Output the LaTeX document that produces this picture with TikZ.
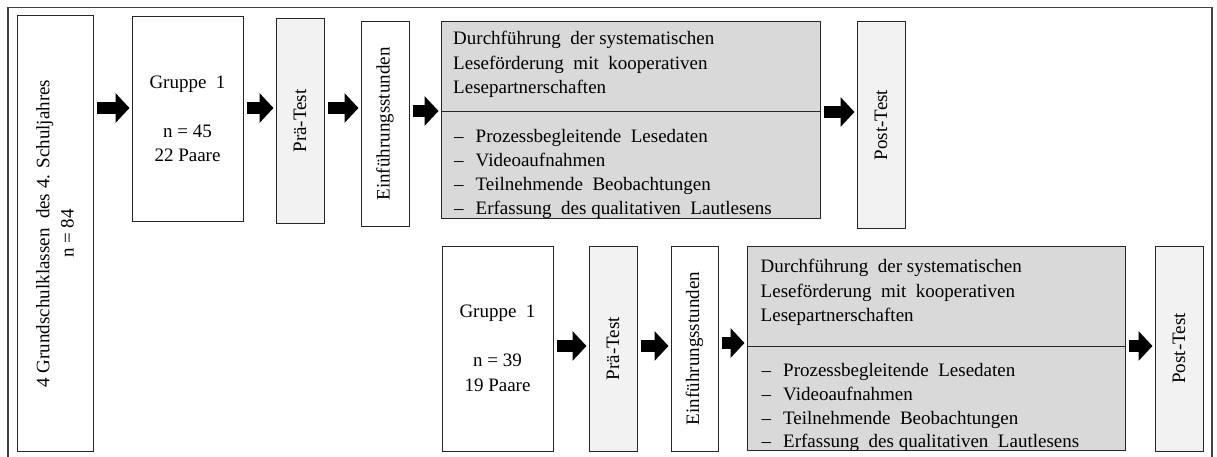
\documentclass[tikz,border=0pt]{standalone}
\usepackage{fontspec}
\setmainfont{Liberation Serif}
\usetikzlibrary{arrows.meta}

\definecolor{framegray}{HTML}{404040}
\definecolor{testfill}{HTML}{F2F2F2}
\definecolor{phasefill}{HTML}{D9D9D9}

% body text and list rows
\newcommand{\bodyfont}{\fontsize{19}{24.5}\selectfont}
\newcommand{\listfont}{\fontsize{19}{23.8}\selectfont}
\newcommand{\dashitem}[1]{\makebox[21.5pt][l]{–}#1}

\begin{document}
\begin{tikzpicture}[x=1pt,y=-1pt,
  box/.style={draw=black!85, line width=1pt, inner sep=0pt, fill=white},
  testbox/.style={box, fill=testfill},
  phasebox/.style={box, fill=phasefill},
  label/.style={font=\bodyfont, inner sep=0pt},
  listlabel/.style={font=\listfont, inner sep=0pt},
  flow/.style={line width=12pt, -{Triangle[length=14pt,width=29pt]},
               shorten <=3pt, shorten >=2pt}]
\useasboundingbox (0,0) rectangle (1217,457);

% outer frame, open at the bottom
\draw[framegray, line width=1.5pt] (8,470) -- (8,7.5) -- (1212,7.5) -- (1212,470);

% sample
\node[box, minimum width=76pt, minimum height=435pt] (cls) at (55,233.5) {};
\node[label, rotate=90, align=center] (clsText) at (cls.center)
  {4 Grundschulklassen\ \ des 4. Schuljahres\\ n = 84};

% ---------- group A ----------
\node[box, minimum width=111pt, minimum height=204pt, font=\bodyfont, align=center] (gA) at (187.5,119)
  {Gruppe\ \ 1\\ \\ n = 45\\ 22 Paare};
\node[testbox, minimum width=48pt, minimum height=204pt] (preA) at (300,121) {};
\node[label, rotate=90] (preAText) at (preA.center) {Prä-Test};
\node[box, minimum width=48pt, minimum height=204pt] (introA) at (385,124) {};
\node[label, rotate=90] (introAText) at (introA.center) {Einführungsstunden};
\node[phasebox, minimum width=379pt, minimum height=196pt] (phaseA) at (630.5,120) {};
\draw[line width=1pt, black!85] (phaseA.west |- 0,112) -- (phaseA.east |- 0,112);
\node[label, anchor=base west] (phaseAHead) at (453,45)
  {\begin{tabular}[t]{@{}l@{}}Durchführung\ \ der systematischen\\
   Leseförderung\ \ mit\ \ kooperativen\\ Lesepartnerschaften\end{tabular}};
\node[listlabel, anchor=base west] (phaseAList) at (454,143)
  {\begin{tabular}[t]{@{}l@{}}\dashitem{Prozessbegleitende\ \ Lesedaten}\\
   \dashitem{Videoaufnahmen}\\ \dashitem{Teilnehmende\ \ Beobachtungen}\\
   \dashitem{Erfassung\ \ des qualitativen\ \ Lautlesens}\end{tabular}};
\node[testbox, minimum width=48pt, minimum height=206pt] (postA) at (881,125) {};
\node[label, rotate=90] (postAText) at (postA.center) {Post-Test};

\draw[flow] (cls.east |- 0,108) -- (gA.west |- 0,108);
\draw[flow] (gA.east |- 0,108) -- (preA.west |- 0,108);
\draw[flow] (preA.east |- 0,108) -- (introA.west |- 0,108);
\draw[flow] (introA.east |- 0,111) -- (phaseA.west |- 0,111);
\draw[flow] (phaseA.east |- 0,112) -- (postA.west |- 0,112);

% ---------- group B ----------
\node[box, minimum width=111pt, minimum height=205pt, font=\bodyfont, align=center] (gB) at (497.5,348.5)
  {Gruppe\ \ 1\\ \\ n = 39\\ 19 Paare};
\node[testbox, minimum width=48pt, minimum height=205pt] (preB) at (613,348.5) {};
\node[label, rotate=90] (preBText) at (preB.center) {Prä-Test};
\node[box, minimum width=47pt, minimum height=205pt] (introB) at (694.5,348.5) {};
\node[label, rotate=90] (introBText) at (introB.center) {Einführungsstunden};
\node[phasebox, minimum width=378pt, minimum height=204.5pt] (phaseB) at (936,348.3) {};
\draw[line width=1pt, black!85] (phaseB.west |- 0,346.5) -- (phaseB.east |- 0,346.5);
\node[label, anchor=base west] (phaseBHead) at (760.5,272.5)
  {\begin{tabular}[t]{@{}l@{}}Durchführung\ \ der systematischen\\
   Leseförderung\ \ mit\ \ kooperativen\\ Lesepartnerschaften\end{tabular}};
\node[listlabel, anchor=base west] (phaseBList) at (761.5,376.5)
  {\begin{tabular}[t]{@{}l@{}}\dashitem{Prozessbegleitende\ \ Lesedaten}\\
   \dashitem{Videoaufnahmen}\\ \dashitem{Teilnehmende\ \ Beobachtungen}\\
   \dashitem{Erfassung\ \ des qualitativen\ \ Lautlesens}\end{tabular}};
\node[testbox, minimum width=48pt, minimum height=205pt] (postB) at (1179,348.5) {};
\node[label, rotate=90] (postBText) at (postB.center) {Post-Test};

\draw[flow] (gB.east |- 0,346) -- (preB.west |- 0,346);
\draw[flow] (preB.east |- 0,346) -- (introB.west |- 0,346);
\draw[flow] (introB.east |- 0,343) -- (phaseB.west |- 0,343);
\draw[flow] (phaseB.east |- 0,346) -- (postB.west |- 0,346);
\end{tikzpicture}
\end{document}
